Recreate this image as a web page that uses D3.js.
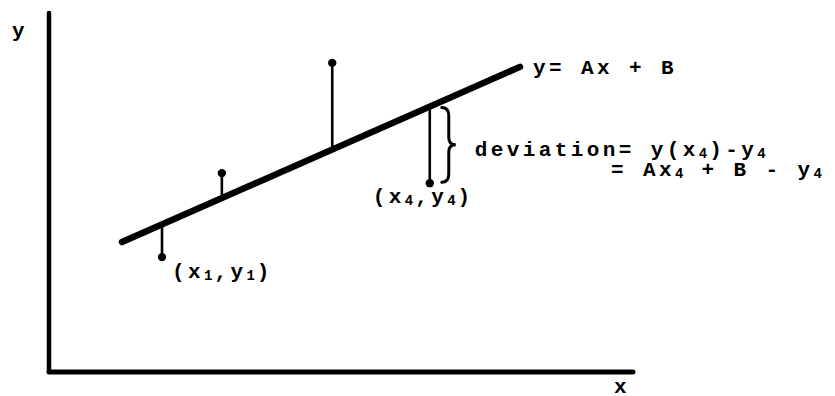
<!DOCTYPE html>
<html>
<head>
<meta charset="utf-8">
<script src="https://cdn.jsdelivr.net/npm/d3@7/dist/d3.min.js"></script>
<style>
  html, body { margin: 0; padding: 0; background: #fff; }
  svg { display: block; }
  .lbl { font-family: "Liberation Mono", "DejaVu Sans Mono", monospace; font-weight: bold; font-size: 21px; letter-spacing: 3.4px; fill: #000; }
  .sub { font-size: 14px; letter-spacing: 2px; }
</style>
</head>
<body>
<svg id="chart" width="835" height="396"></svg>
<script>
// Observed points (x_i, y_i)
const pointX = [19.35, 29.6, 48.5, 65.2];
const pointY = [32.0, 55.4, 86.1, 52.6];
// Least-squares line y = A x + B and the x-range it is drawn over
const slopeA = 0.716;
const interceptB = 27.25;
const lineExtent = [12.5, 80.65];
// Axis ranges
const xDomain = [0, 100];
const yDomain = [0, 100];

const svg = d3.select("#chart");
const xs = d3.scaleLinear().domain(xDomain).range([49, 633]);
const ys = d3.scaleLinear().domain(yDomain).range([372, 13]);
const fit = x => slopeA * x + interceptB;

// Axes: bare lines, no ticks
svg.append("line")
  .attr("x1", xs(0)).attr("y1", ys(0)).attr("x2", xs(0)).attr("y2", ys(100))
  .attr("stroke", "#000").attr("stroke-width", 4.5).attr("stroke-linecap", "round");
svg.append("line")
  .attr("x1", xs(0)).attr("y1", ys(0)).attr("x2", xs(100)).attr("y2", ys(0))
  .attr("stroke", "#000").attr("stroke-width", 5).attr("stroke-linecap", "round");

// Fitted line
const lineGen = d3.line().x(d => xs(d)).y(d => ys(fit(d)));
svg.append("path")
  .attr("d", lineGen(lineExtent))
  .attr("fill", "none").attr("stroke", "#000").attr("stroke-width", 6.5).attr("stroke-linecap", "round");

// Deviation stems from the line to each point
const pts = pointX.map((x, i) => ({ x, y: pointY[i] }));
svg.selectAll("line.stem").data(pts).enter().append("line")
  .attr("class", "stem")
  .attr("x1", d => xs(d.x)).attr("x2", d => xs(d.x))
  .attr("y1", d => ys(fit(d.x))).attr("y2", d => ys(d.y))
  .attr("stroke", "#000").attr("stroke-width", 2.6);
svg.selectAll("circle.pt").data(pts).enter().append("circle")
  .attr("class", "pt")
  .attr("cx", d => xs(d.x)).attr("cy", d => ys(d.y)).attr("r", 4.2)
  .attr("fill", "#000");

// Curly brace spanning the deviation of point 4
const p4 = pts[3];
const bx = xs(p4.x) + 12;
const yTop = ys(fit(p4.x)) + 1;
const yBot = ys(p4.y) - 1;
const yMid = (yTop + yBot) / 2;
const brace = d3.path();
brace.moveTo(bx, yTop);
brace.quadraticCurveTo(bx + 7, yTop, bx + 7, yTop + 8);
brace.lineTo(bx + 7, yMid - 7);
brace.quadraticCurveTo(bx + 7, yMid, bx + 14, yMid);
brace.quadraticCurveTo(bx + 7, yMid, bx + 7, yMid + 7);
brace.lineTo(bx + 7, yBot - 8);
brace.quadraticCurveTo(bx + 7, yBot, bx, yBot);
svg.append("path").attr("d", brace.toString())
  .attr("fill", "none").attr("stroke", "#000").attr("stroke-width", 3).attr("stroke-linecap", "round");

// Text helper: parts are [string, isSubscript]
function label(x, y, parts) {
  const t = svg.append("text").attr("class", "lbl").attr("x", x).attr("y", y);
  let lowered = false;
  parts.forEach(([s, sub]) => {
    const sp = t.append("tspan").text(s);
    if (sub) {
      sp.attr("class", "sub");
      if (!lowered) { sp.attr("dy", 2); lowered = true; }
    } else if (lowered) { sp.attr("dy", -2); lowered = false; }
  });
  return t;
}

// Axis labels
label(12, 37, [["y"]]);
label(614, 393, [["x"]]);

// Equation of the line
const endX = lineExtent[1];
label(xs(endX) + 13, ys(fit(endX)) + 7, [["y= Ax + B"]]);

// Point labels
label(xs(pts[0].x) + 10, ys(pts[0].y) + 21, [["(x"], ["1", true], [",y"], ["1", true], [")"]]);
label(xs(p4.x) - 57, ys(p4.y) + 20, [["(x"], ["4", true], [",y"], ["4", true], [")"]]);

// Deviation definition
label(bx + 33, yMid + 11, [["deviation= y(x"], ["4", true], [")-y"], ["4", true]]);
label(611, yMid + 31, [["= Ax"], ["4", true], [" + B - y"], ["4", true]]);
</script>
</body>
</html>
